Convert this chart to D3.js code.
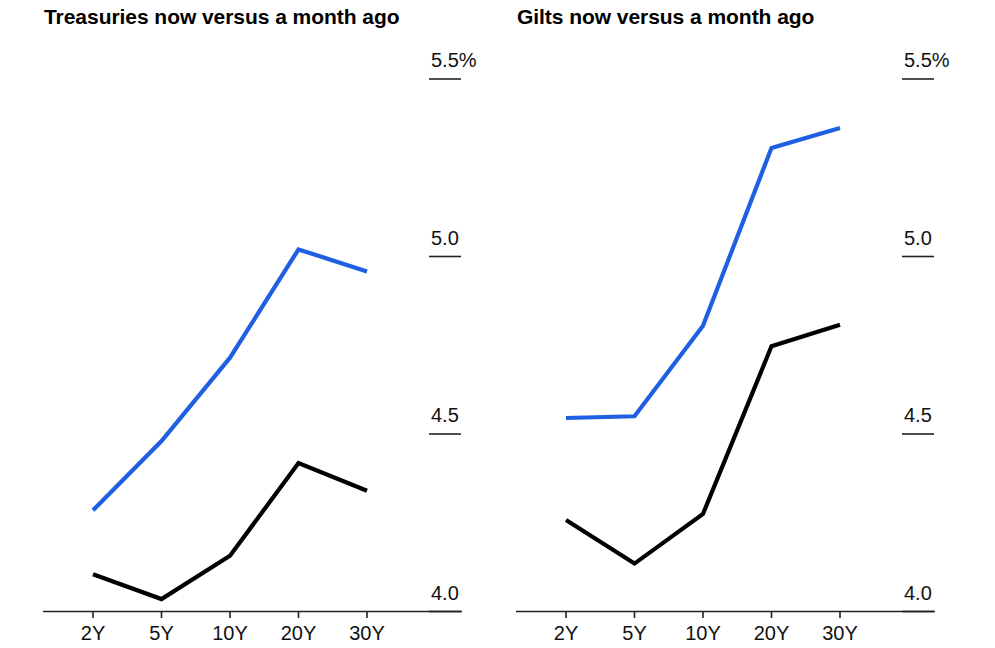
<!DOCTYPE html>
<html>
<head>
<meta charset="utf-8">
<script src="https://cdn.jsdelivr.net/npm/d3@7"></script>
<style>
  body { margin: 0; background: #fff; }
  svg { display: block; font-family: "Liberation Sans", Arial, sans-serif; }
</style>
</head>
<body>
<svg id="chart" width="995" height="648"></svg>
<script>
const tenors = ["2Y", "5Y", "10Y", "20Y", "30Y"];
const yTicks = [4.0, 4.5, 5.0, 5.5];
const yTickLabels = ["4.0", "4.5", "5.0", "5.5%"];

const panelTitles = ["Treasuries now versus a month ago", "Gilts now versus a month ago"];
const treasuriesNow = [4.285, 4.48, 4.715, 5.02, 4.958];
const treasuriesMonthAgo = [4.105, 4.035, 4.157, 4.418, 4.34];
const giltsNow = [4.545, 4.55, 4.805, 5.306, 5.362];
const giltsMonthAgo = [4.258, 4.135, 4.275, 4.747, 4.808];

const panels = [
  { title: panelTitles[0], now: treasuriesNow, ago: treasuriesMonthAgo, x0: 43 },
  { title: panelTitles[1], now: giltsNow, ago: giltsMonthAgo, x0: 516 }
];

const svg = d3.select("#chart");
const blue = "#1f5fe2";
const black = "#000";

const y = d3.scaleLinear().domain([4.0, 5.5]).range([611.5, 79]);
const x = d3.scalePoint().domain(tenors).range([50, 324]);

panels.forEach(p => {
  const g = svg.append("g").attr("transform", `translate(${p.x0},0)`);

  g.append("text")
    .attr("x", 1).attr("y", 23.5)
    .attr("font-size", 21).attr("font-weight", "bold")
    .attr("letter-spacing", -0.05)
    .attr("fill", "#000")
    .text(p.title);

  // y ticks on the right
  const yt = g.selectAll(".ytick").data(yTicks).enter().append("g");
  yt.append("line")
    .attr("x1", 386).attr("x2", 418)
    .attr("y1", d => y(d)).attr("y2", d => y(d))
    .attr("stroke", "#222").attr("stroke-width", 1.6);
  yt.append("text")
    .attr("x", 388).attr("y", d => y(d) - 12)
    .attr("font-size", 20).attr("fill", "#111")
    .text((d, i) => yTickLabels[i]);

  // x axis
  g.append("line")
    .attr("x1", 0).attr("x2", 419)
    .attr("y1", 611.5).attr("y2", 611.5)
    .attr("stroke", "#222").attr("stroke-width", 1.6);
  const xt = g.selectAll(".xtick").data(tenors).enter().append("g");
  xt.append("line")
    .attr("x1", d => x(d)).attr("x2", d => x(d))
    .attr("y1", 611.5).attr("y2", 618)
    .attr("stroke", "#222").attr("stroke-width", 1.6);
  xt.append("text")
    .attr("x", d => x(d)).attr("y", 640)
    .attr("text-anchor", "middle")
    .attr("font-size", 20).attr("fill", "#111")
    .text(d => d);

  const line = d3.line().x((d, i) => x(tenors[i])).y(d => y(d));
  g.append("path").datum(p.ago)
    .attr("d", line).attr("fill", "none")
    .attr("stroke", black).attr("stroke-width", 4.2)
    .attr("stroke-linejoin", "miter");
  g.append("path").datum(p.now)
    .attr("d", line).attr("fill", "none")
    .attr("stroke", blue).attr("stroke-width", 4.2)
    .attr("stroke-linejoin", "miter");
});
</script>
</body>
</html>
